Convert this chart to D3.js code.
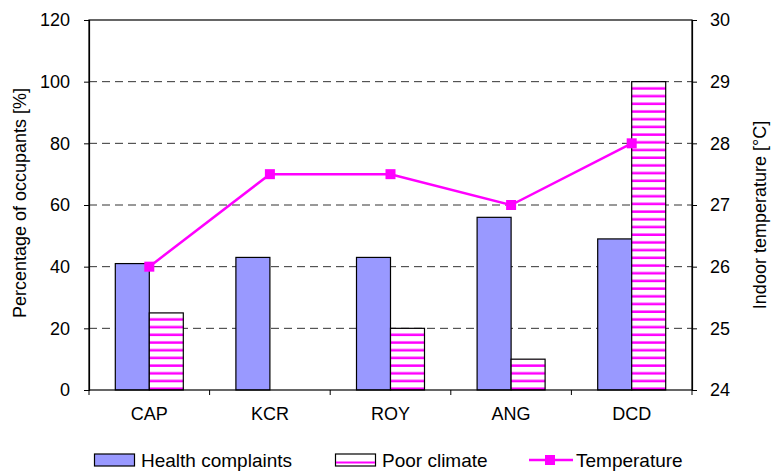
<!DOCTYPE html>
<html><head><meta charset="utf-8">
<script src="https://cdn.jsdelivr.net/npm/d3@7"></script>
<style>body{margin:0;background:#fff}svg{display:block}text{font-family:"Liberation Sans",Arial,sans-serif;fill:#000}</style>
</head><body><svg id="c" width="774" height="473"></svg>
<script>
const categories = ["CAP","KCR","ROY","ANG","DCD"];
const healthComplaints = [41,43,43,56,49];
const poorClimate = [25,0,20,10,100];
const temperature = [26,27.5,27.5,27,28];
const leftTicks = [0,20,40,60,80,100,120];
const rightTicks = [24,25,26,27,28,29,30];

const svg = d3.select("#c");
const m = {l:89, r:692, t:20, b:390};
const x = d3.scaleBand().domain(categories).range([m.l,m.r]);
const yL = d3.scaleLinear().domain([0,120]).range([m.b,m.t]);
const yR = d3.scaleLinear().domain([24,30]).range([m.b,m.t]);
const bw = 34;
const FF = "Liberation Sans, Arial, sans-serif";

const defs = svg.append("defs");
const pat = defs.append("pattern").attr("id","hp").attr("patternUnits","userSpaceOnUse")
  .attr("width",8).attr("height",7.7).attr("y",m.b);
pat.append("rect").attr("width",8).attr("height",7.7).attr("fill","#fff");
pat.append("rect").attr("y",5.2).attr("width",8).attr("height",2.5).attr("fill","#ff00ff");

// grid
svg.append("g").selectAll("line").data(leftTicks.filter(d=>d>0&&d<120)).join("line")
  .attr("x1",m.l).attr("x2",m.r).attr("y1",d=>yL(d)).attr("y2",d=>yL(d))
  .attr("stroke","#333").attr("stroke-width",1).attr("stroke-dasharray","8,5");

// bars
const g = svg.append("g");
g.selectAll(".h").data(categories).join("rect")
  .attr("x",d=>x(d)+x.bandwidth()/2-bw).attr("width",bw)
  .attr("y",(d,i)=>yL(healthComplaints[i])).attr("height",(d,i)=>m.b-yL(healthComplaints[i]))
  .attr("fill","#9999ff").attr("stroke","#000").attr("stroke-width",1.2);
g.selectAll(".p").data(categories).join("rect")
  .attr("x",d=>x(d)+x.bandwidth()/2).attr("width",bw)
  .attr("y",(d,i)=>yL(poorClimate[i])).attr("height",(d,i)=>m.b-yL(poorClimate[i]))
  .attr("fill","url(#hp)").attr("stroke","#000").attr("stroke-width",1.2)
  .attr("display",(d,i)=>poorClimate[i]>0?null:"none");

// frame
svg.append("rect").attr("x",m.l).attr("y",m.t).attr("width",m.r-m.l).attr("height",m.b-m.t)
  .attr("fill","none").attr("stroke","#000").attr("stroke-width",1.2);

// axes
const axL = svg.append("g").attr("transform",`translate(${m.l},0)`)
  .call(d3.axisLeft(yL).tickValues(leftTicks).tickSize(5).tickPadding(14).tickFormat(d3.format("d")));
const axR = svg.append("g").attr("transform",`translate(${m.r},0)`)
  .call(d3.axisRight(yR).tickValues(rightTicks).tickSize(5).tickPadding(13).tickFormat(d3.format("d")));
const axB = svg.append("g").attr("transform",`translate(0,${m.b})`)
  .call(d3.axisBottom(x).tickSize(0).tickPadding(17));
// category boundary ticks
svg.append("g").selectAll("line").data(d3.range(categories.length+1)).join("line")
  .attr("x1",i=>m.l+i*x.step()).attr("x2",i=>m.l+i*x.step())
  .attr("y1",m.b).attr("y2",m.b+5).attr("stroke","#000").attr("stroke-width",1);
[axL,axR,axB].forEach(a=>{a.attr("font-family",FF).attr("font-size",18);
  a.select(".domain").attr("stroke","#000").attr("stroke-width",1.2);
  a.selectAll("text").attr("font-size",18).attr("font-family",FF);
  a.selectAll(".tick line").attr("stroke","#000");});
axB.select(".domain").remove();

// line
const line = d3.line().x((d,i)=>x(categories[i])+x.bandwidth()/2).y(d=>yR(d));
svg.append("path").datum(temperature).attr("d",line).attr("fill","none")
  .attr("stroke","#ff00ff").attr("stroke-width",2.5);
svg.append("g").selectAll("rect").data(temperature).join("rect")
  .attr("x",(d,i)=>x(categories[i])+x.bandwidth()/2-5).attr("y",d=>yR(d)-5)
  .attr("width",10).attr("height",10).attr("fill","#ff00ff");

// titles
svg.append("text").attr("transform",`translate(26,203) rotate(-90)`)
  .attr("text-anchor","middle").attr("font-size",18).text("Percentage of occupants [%]");
svg.append("text").attr("transform",`translate(766,215) rotate(-90)`)
  .attr("text-anchor","middle").attr("font-size",18).text("Indoor temperature [°C]");

// legend
const lg = svg.append("g");
lg.append("rect").attr("x",94.5).attr("y",454).attr("width",40).attr("height",12)
  .attr("fill","#9999ff").attr("stroke","#000").attr("stroke-width",1.2);
lg.append("text").attr("x",141).attr("y",467).attr("font-size",19).text("Health complaints");
lg.append("rect").attr("x",335.5).attr("y",454).attr("width",40).attr("height",12)
  .attr("fill","#fff").attr("stroke","#000").attr("stroke-width",1.2);
lg.append("line").attr("x1",336).attr("x2",375).attr("y1",462.5).attr("y2",462.5)
  .attr("stroke","#ff00ff").attr("stroke-width",1.8);
lg.append("text").attr("x",382).attr("y",467).attr("font-size",19).text("Poor climate");
lg.append("line").attr("x1",529).attr("x2",573).attr("y1",460).attr("y2",460)
  .attr("stroke","#ff00ff").attr("stroke-width",2.5);
lg.append("rect").attr("x",545).attr("y",455).attr("width",10).attr("height",10).attr("fill","#ff00ff");
lg.append("text").attr("x",576).attr("y",467).attr("font-size",19).text("Temperature");
</script></body></html>
